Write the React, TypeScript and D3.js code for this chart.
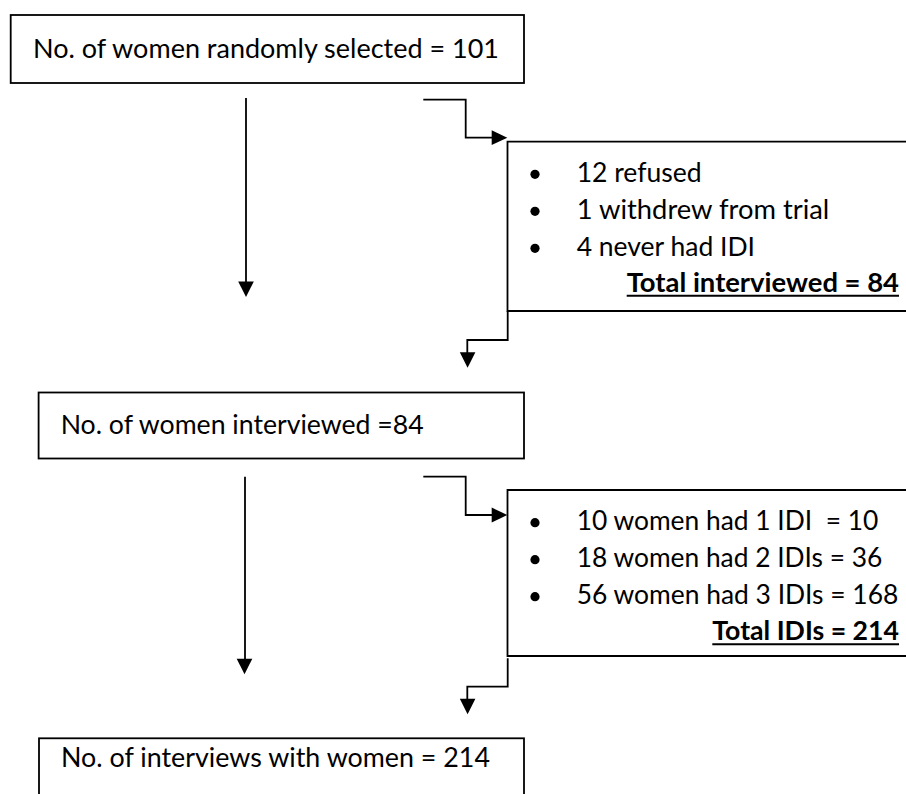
import React, { useLayoutEffect, useRef, useState } from "react";
import * as d3 from "d3";

// ---- data ----
const mainSteps = [
  "No. of women randomly selected = 101",
  "No. of women interviewed =84",
  "No. of interviews with women = 214",
];
const exclusionItems = ["12 refused", "1 withdrew from trial", "4 never had IDI"];
const exclusionTotal = "Total interviewed = 84";
const idiItems = [
  "10 women had 1 IDI  = 10",
  "18 women had 2 IDIs = 36",
  "56 women had 3 IDIs = 168",
];
const idiTotal = "Total IDIs = 214";

// ---- layout ----
const W = 906;
const H = 794;
const FONT = "Lato, 'Open Sans', 'DejaVu Sans', sans-serif";
const FS = 28.5;
const SW = 1.8;

const mainBoxes = [
  { x: 10.7, y: 15, w: 513.3, h: 68, tx: 33, ty: 58, tl: 466 },
  { x: 38.6, y: 392.5, w: 485.4, h: 66, tx: 60.7, ty: 434, tl: 363 },
  { x: 39, y: 738.3, w: 485, h: 80, tx: 61, ty: 767, tl: 429 },
];
const itemLens1 = [125, 252.6, 178.3];
const itemLens2 = [301.6, 305.6, 321.6];
const sideBoxes = [
  { x: 507.5, y: 141.7, bottom: 311, items: exclusionItems, total: exclusionTotal, lens: itemLens1, bullet0: 174.3, totalX: 626.7, totalLen: 272.3, totalY: 291.5 },
  { x: 507.5, y: 490, bottom: 656, items: idiItems, total: idiTotal, lens: itemLens2, bullet0: 522.7, totalX: 712.3, totalLen: 186.7, totalY: 640 },
];
const LINE_GAP = 37;

const line = d3.line<[number, number]>().x((d) => d[0]).y((d) => d[1]);

function ArrowDown({ x, tip }: { x: number; tip: number }) {
  const p: [number, number][] = [[x - 7.8, tip - 15.5], [x + 7.8, tip - 15.5], [x, tip]];
  return <path d={line(p) + "Z"} fill="#000" />;
}
function ArrowRight({ tip, y }: { tip: number; y: number }) {
  const p: [number, number][] = [[tip - 15.6, y - 7.4], [tip - 15.6, y + 7.4], [tip, y]];
  return <path d={line(p) + "Z"} fill="#000" />;
}

// Text that fits a target width: shrinks font if natural width is larger, stretches otherwise.
function FitText({ x, y, len, bold, children }: { x: number; y: number; len: number; bold?: boolean; children: string }) {
  const ref = useRef<SVGTextElement>(null);
  const [fs, setFs] = useState<number | null>(null);
  useLayoutEffect(() => {
    if (ref.current && fs === null) {
      const nat = ref.current.getComputedTextLength();
      setFs(nat > len ? (FS * len) / nat : FS);
    }
  }, [fs, len]);
  return (
    <text
      ref={ref}
      x={x}
      y={y}
      fontFamily={FONT}
      fontSize={fs ?? FS}
      fontWeight={bold ? "bold" : "normal"}
      fill="#000"
      textLength={fs === null ? undefined : len}
      lengthAdjust="spacingAndGlyphs"
      style={{ whiteSpace: "pre" }}
    >
      {children}
    </text>
  );
}

export default function App() {
  const connectors: [number, number][][] = [
    [[246, 98], [246, 285]],
    [[245, 476.7], [245, 662]],
    [[423.3, 99.7], [465.7, 99.7], [465.7, 137.7], [494, 137.7]],
    [[423.3, 476.7], [465.7, 476.7], [465.7, 515], [494, 515]],
    [[507.7, 311], [507.7, 340], [467.3, 340], [467.3, 355]],
    [[507.7, 658.3], [507.7, 686.7], [467.3, 686.7], [467.3, 702]],
  ];

  return (
    <div style={{ position: "absolute", left: 0, top: 0 }}>
      <svg width={W} height={H} viewBox={`0 0 ${W} ${H}`} style={{ display: "block", background: "#fff" }}>
        <rect x={0} y={0} width={W} height={H} fill="#fff" />
        {mainBoxes.map((b, i) => (
          <g key={"m" + i}>
            <rect x={b.x} y={b.y} width={b.w} height={b.h} fill="none" stroke="#000" strokeWidth={SW} />
            <FitText x={b.tx} y={b.ty} len={b.tl}>{mainSteps[i]}</FitText>
          </g>
        ))}
        {sideBoxes.map((s, i) => (
          <g key={"s" + i}>
            <path d={line([[W + 10, s.y], [s.x, s.y], [s.x, s.bottom], [W + 10, s.bottom]]) || ""} fill="none" stroke="#000" strokeWidth={SW} />
            {s.items.map((t, j) => (
              <g key={j}>
                <circle cx={535} cy={s.bullet0 + j * LINE_GAP} r={4.6} fill="#000" />
                <FitText x={576.7} y={s.bullet0 + j * LINE_GAP + 7.6} len={s.lens[j]}>{t}</FitText>
              </g>
            ))}
            <FitText x={s.totalX} y={s.totalY} len={s.totalLen} bold>{s.total}</FitText>
            <line x1={s.totalX} x2={s.totalX + s.totalLen} y1={s.totalY + 4.3} y2={s.totalY + 4.3} stroke="#000" strokeWidth={2} />
          </g>
        ))}
        {connectors.map((c, i) => (
          <path key={"c" + i} d={line(c) || ""} fill="none" stroke="#000" strokeWidth={SW} />
        ))}
        <ArrowDown x={246} tip={297} />
        <ArrowDown x={244.5} tip={674.3} />
        <ArrowRight tip={507.3} y={137.7} />
        <ArrowRight tip={507.3} y={515} />
        <ArrowDown x={467.6} tip={367.7} />
        <ArrowDown x={467.6} tip={714.3} />
      </svg>
    </div>
  );
}
